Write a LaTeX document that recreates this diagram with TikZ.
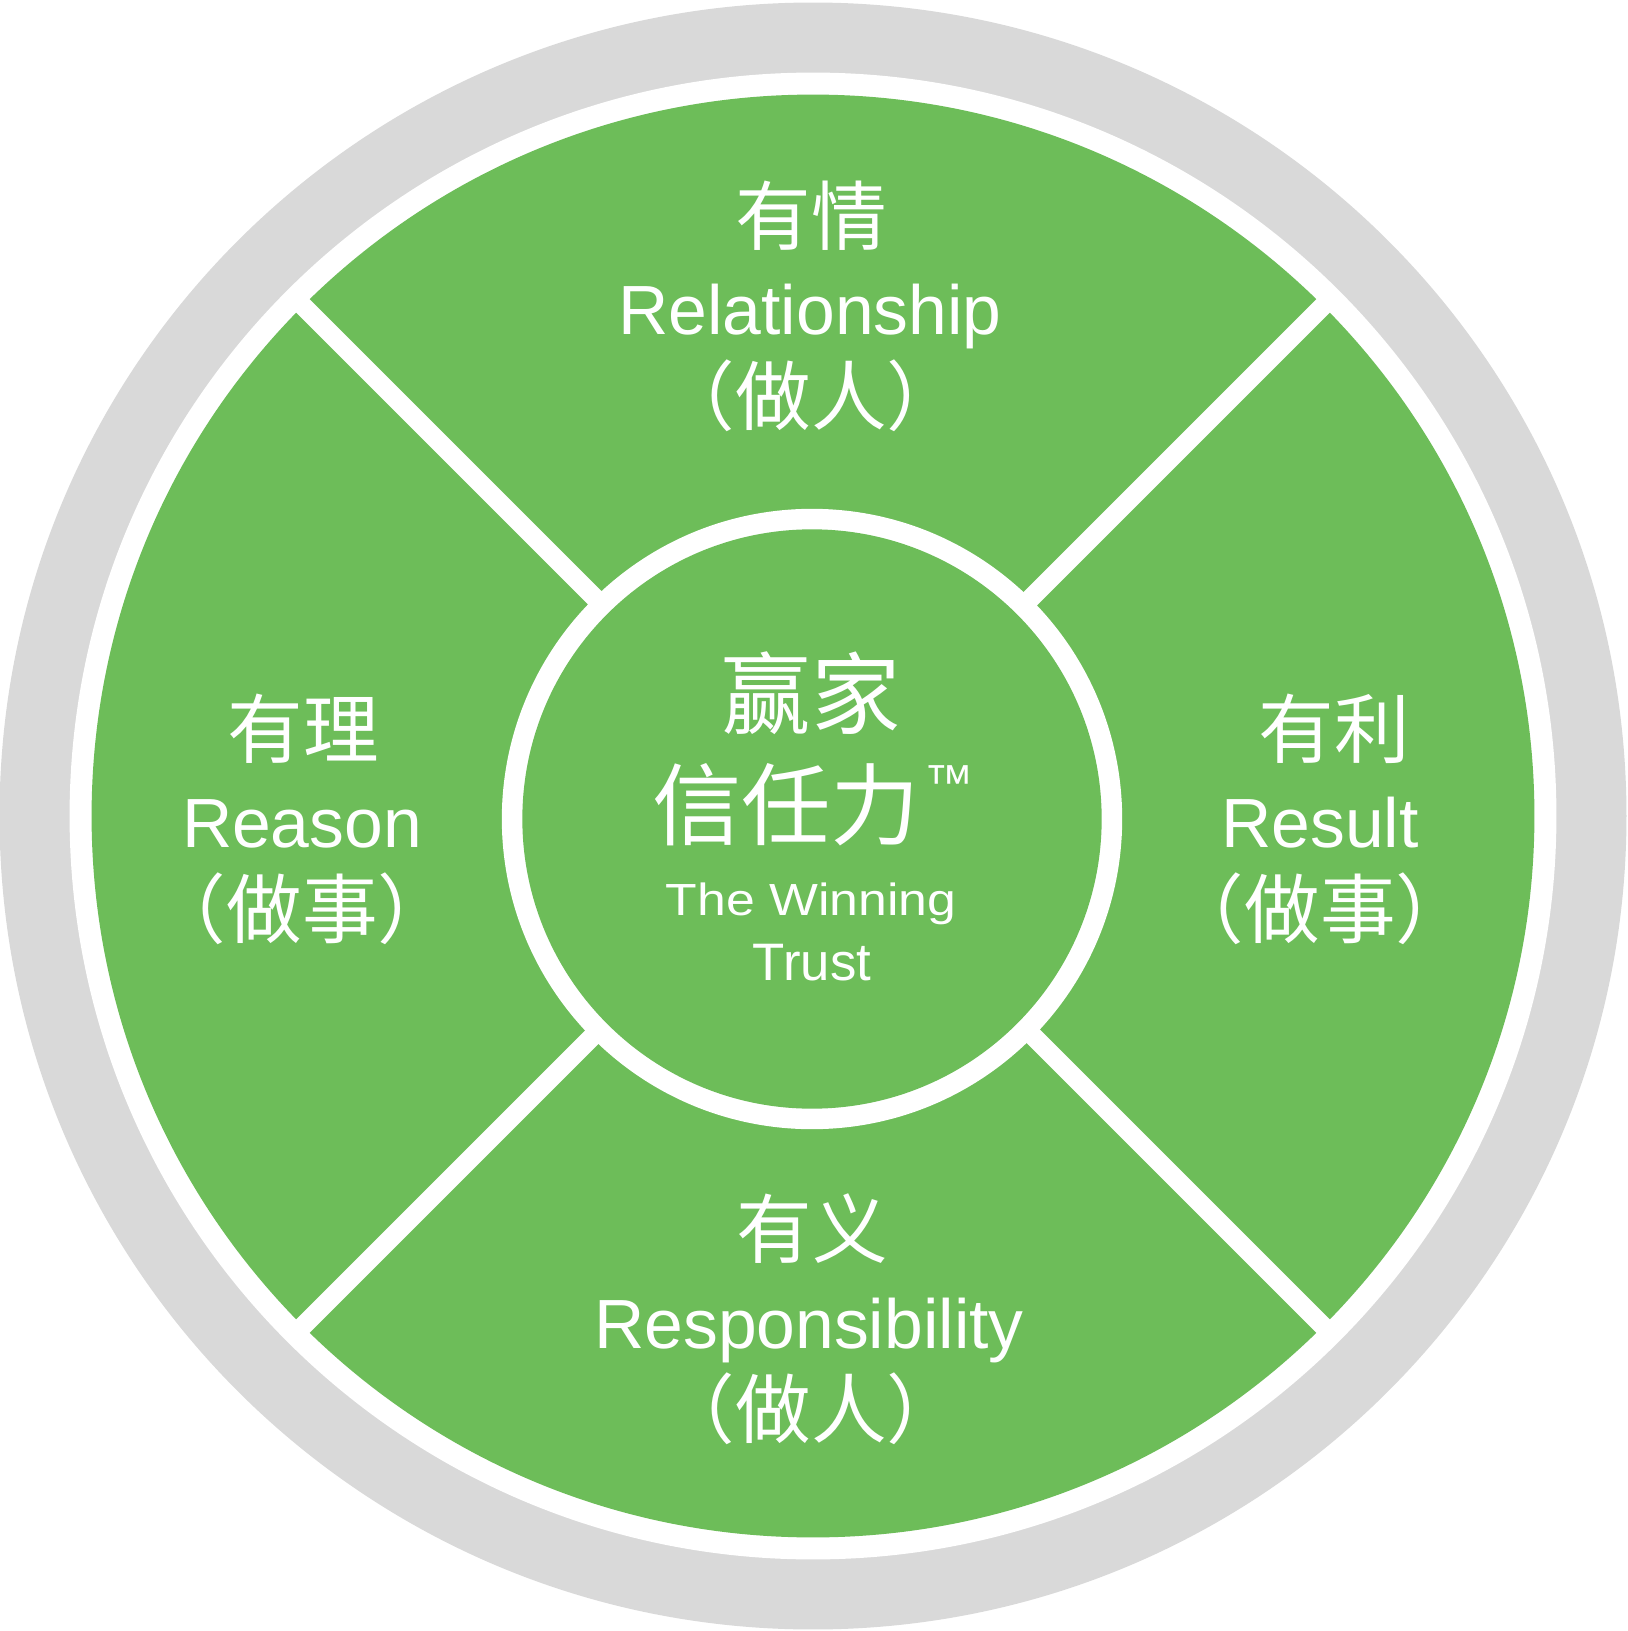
\documentclass[tikz,border=0pt]{standalone}
\usepackage{fontspec}
\usetikzlibrary{calc}
\setmainfont{Liberation Sans}
\newfontfamily\cjk{Noto Sans CJK SC}
\newfontfamily\widesans[FakeStretch=1.15]{Liberation Sans}
\definecolor{leafgreen}{RGB}{109,189,89}
\definecolor{ringgray}{RGB}{217,217,217}
\begin{document}
\begin{tikzpicture}[x=0.01cm,y=-0.01cm,
  cjklabel/.style={text=white,font=\cjk\fontsize{21.5}{24}\selectfont,inner sep=0pt,anchor=center},
  cjkbig/.style={text=white,font=\cjk\fontsize{25.4}{28}\selectfont,inner sep=0pt,anchor=center},
  latinlabel/.style={text=white,font=\fontsize{19.8}{22}\selectfont,inner sep=0pt,anchor=base},
  band/.style={white,line width=5.4pt}]
\useasboundingbox (0,0) rectangle (1627,1631);
\coordinate (O) at (813,816);
\coordinate (C) at (812,819);
% rings
\fill[ringgray] (O) circle[radius=8.13cm];
\fill[white] (O) circle[radius=7.43cm];
\fill[leafgreen] (O) circle[radius=7.21cm];
% diagonal separators
\draw[band] ($(O)+(-520,-520)$) -- ($(O)+(520,520)$);
\draw[band] ($(O)+(520,-520)$) -- ($(O)+(-520,520)$);
% centre disc
\fill[white] (C) circle[radius=3.10cm];
\fill[leafgreen] (C) circle[radius=2.895cm];
% top
\node[cjklabel] (topcn) at (811,216) {有情};
\node[latinlabel] (topen) at (810,335) {Relationship};
\node[cjklabel] (topsub) at (811,396) {（做人）};
% left
\node[cjklabel] (leftcn) at (303,729) {有理};
\node[latinlabel] (leften) at (302,847) {Reason};
\node[cjklabel] (leftsub) at (302,909) {（做事）};
% right
\node[cjklabel] (rightcn) at (1334,729) {有利};
\node[latinlabel] (righten) at (1320,847) {Result};
\node[cjklabel] (rightsub) at (1320,909) {（做事）};
% bottom
\node[cjklabel] (botcn) at (812,1229) {有义};
\node[latinlabel] (boten) at (809,1348) {Responsibility};
\node[cjklabel] (botsub) at (811,1409) {（做人）};
% centre
\node[cjkbig] (ctop) at (811,693) {赢家};
\node[cjkbig] (cmid) at (786,805) {信任力};
\node[text=white,font=\fontsize{14}{16}\selectfont,inner sep=0pt,anchor=center] (ctm) at (949,783) {™};
\node[text=white,font=\widesans\fontsize{12.8}{15}\selectfont,inner sep=0pt,anchor=base] (cen1) at (811,915) {The Winning};
\node[text=white,font=\fontsize{15}{17}\selectfont,inner sep=0pt,anchor=base] (cen2) at (812,980) {Trust};
\end{tikzpicture}
\end{document}
